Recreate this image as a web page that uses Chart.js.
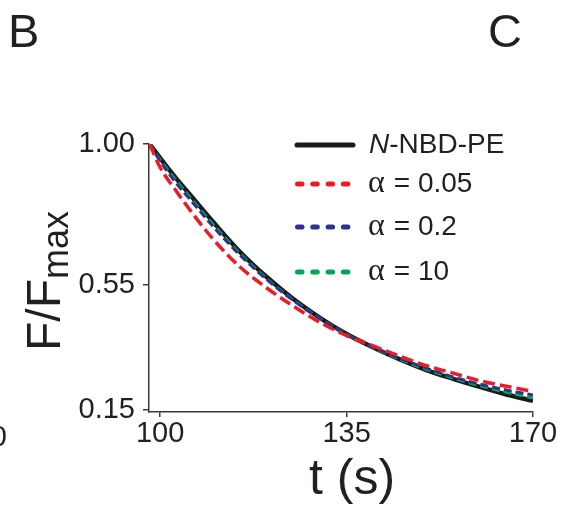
<!DOCTYPE html>
<html>
<head>
<meta charset="utf-8">
<script src="https://cdn.jsdelivr.net/npm/chart.js@4.4.0/dist/chart.umd.min.js"></script>
<style>
  html, body { margin: 0; padding: 0; background: #fff; }
  #wrap { width: 566px; height: 510px; position: relative; }
</style>
</head>
<body>
<div id="wrap"><canvas id="decayChart"></canvas></div>
<script>
  // time points (s)
  let timePoints = [98, 100, 103, 106, 110, 115, 120, 125, 130, 135, 140, 145, 150, 155, 160, 165, 170];

  // F/Fmax per series
  let nbdPe     = [1.00, 0.955, 0.890, 0.830, 0.750, 0.655, 0.575, 0.505, 0.445, 0.393, 0.350, 0.312, 0.278, 0.250, 0.224, 0.200, 0.180];
  let alpha005  = [1.00, 0.925, 0.850, 0.780, 0.695, 0.607, 0.540, 0.482, 0.430, 0.388, 0.355, 0.322, 0.292, 0.268, 0.244, 0.226, 0.210];
  let alpha02   = [1.00, 0.945, 0.875, 0.815, 0.735, 0.645, 0.567, 0.500, 0.442, 0.392, 0.350, 0.315, 0.284, 0.256, 0.233, 0.214, 0.198];
  let alpha10   = [1.00, 0.950, 0.883, 0.822, 0.742, 0.650, 0.570, 0.502, 0.443, 0.392, 0.349, 0.312, 0.280, 0.252, 0.228, 0.207, 0.189];

  let seriesLabels = ["N-NBD-PE", "α = 0.05", "α = 0.2", "α = 10"];

  // tick labels
  let xTicks = [100, 135, 170];
  let yTicks = [0.15, 0.55, 1.00];

  // colours
  let inkColor = "#231f20";
  let axisColor = "#3a3a3a";
  let seriesColors = ["#1a1a1a", "#ed1c24", "#2e3192", "#00a651"];
  let sansFont = '"Liberation Sans", Arial, Helvetica, sans-serif';
  let serifFont = '"Liberation Serif", "Times New Roman", serif';

  function toPoints(values) {
    return values.map((v, i) => ({ x: timePoints[i], y: v }));
  }

  // legend, axis titles, panel letters
  const figureText = {
    id: "figureText",
    afterDraw(chart) {
      const ctx = chart.ctx;
      ctx.save();
      ctx.fillStyle = inkColor;
      ctx.textBaseline = "alphabetic";
      ctx.textAlign = "left";

      // panel letters
      ctx.font = "47px " + sansFont;
      ctx.fillText("B", 8, 47);
      ctx.fillText("C", 488, 47);

      // leftover of the neighbouring panel's tick label
      ctx.font = "29px " + sansFont;
      ctx.textAlign = "right";
      ctx.fillText("0", 7, 446);
      ctx.textAlign = "left";

      // x title
      ctx.font = "50px " + sansFont;
      ctx.textAlign = "center";
      ctx.fillText("t (s)", 352, 494);
      ctx.textAlign = "left";

      // y title with subscript
      ctx.save();
      ctx.translate(60, 351);
      ctx.rotate(-Math.PI / 2);
      ctx.font = "48px " + sansFont;
      ctx.fillText("F/F", 0, 0);
      let w = ctx.measureText("F/F").width;
      ctx.font = "36px " + sansFont;
      ctx.fillText("max", w, 8);
      ctx.restore();

      // legend
      const rows = [145, 184, 227, 272];
      const baselines = [153, 192, 235, 280];
      chart.data.datasets.forEach((ds, i) => {
        const y = rows[i];
        ctx.strokeStyle = ds.borderColor;
        ctx.lineCap = "round";
        if (i === 0) {
          ctx.lineWidth = 5;
          ctx.beginPath();
          ctx.moveTo(297, y);
          ctx.lineTo(353, y);
          ctx.stroke();
        } else {
          ctx.lineWidth = 5;
          for (let k = 0; k < 4; k++) {
            const x0 = 297.5 + k * 15.3;
            ctx.beginPath();
            ctx.moveTo(x0, y);
            ctx.lineTo(x0 + 4.5, y);
            ctx.stroke();
          }
        }
        const label = seriesLabels[i];
        let x = 369;
        const by = baselines[i];
        if (label.startsWith("N")) {
          ctx.font = "italic 28px " + sansFont;
          ctx.fillText("N", x, by);
          x += ctx.measureText("N").width;
          ctx.font = "28px " + sansFont;
          ctx.fillText(label.slice(1), x, by);
        } else {
          ctx.font = "32px " + serifFont;
          ctx.fillText("α", x - 1, by);
          ctx.font = "28px " + sansFont;
          ctx.fillText(label.slice(1), x + 17, by);
        }
      });
      ctx.restore();
    }
  };

  let ctx = document.getElementById("decayChart").getContext("2d");
  let chart = new Chart(ctx, {
    type: "line",
    data: {
      datasets: [
        {
          label: seriesLabels[0], data: toPoints(nbdPe),
          borderColor: seriesColors[0], borderWidth: 4.5, order: 3
        },
        {
          label: seriesLabels[1], data: toPoints(alpha005),
          borderColor: seriesColors[1], borderWidth: 3.5, borderDash: [12, 5], order: 0
        },
        {
          label: seriesLabels[2], data: toPoints(alpha02),
          borderColor: seriesColors[2], borderWidth: 3, borderDash: [8, 4], order: 1
        },
        {
          label: seriesLabels[3], data: toPoints(alpha10),
          borderColor: seriesColors[3], borderWidth: 3, borderDash: [8, 4], order: 2
        }
      ]
    },
    options: {
      responsive: true,
      maintainAspectRatio: false,
      animation: false,
      layout: { padding: { top: 144, right: 33, left: 0, bottom: 0 } },
      elements: {
        point: { radius: 0 },
        line: { tension: 0.4, cubicInterpolationMode: "monotone", fill: false }
      },
      plugins: {
        legend: { display: false },
        tooltip: { enabled: false }
      },
      scales: {
        x: {
          type: "linear",
          min: 97.9,
          max: 170,
          afterBuildTicks: (scale) => { scale.ticks = xTicks.map(v => ({ value: v })); },
          afterFit: (scale) => { scale.height = 98; },
          ticks: {
            autoSkip: false, maxRotation: 0, padding: 0,
            color: inkColor, font: { family: sansFont, size: 29 },
            callback: (v) => String(v)
          },
          grid: { display: true, drawOnChartArea: false, drawTicks: true, tickLength: 5, color: axisColor, lineWidth: 1.5 },
          border: { display: true, color: axisColor, width: 1.5 }
        },
        y: {
          type: "linear",
          min: 0.144,
          max: 1.0,
          afterBuildTicks: (scale) => { scale.ticks = yTicks.map(v => ({ value: v })); },
          afterFit: (scale) => { scale.width = 149; },
          ticks: {
            autoSkip: false, padding: 8,
            color: inkColor, font: { family: sansFont, size: 29 },
            callback: (v) => v.toFixed(2)
          },
          grid: { display: true, drawOnChartArea: false, drawTicks: true, tickLength: 6, color: axisColor, lineWidth: 1.5 },
          border: { display: true, color: axisColor, width: 1.5 }
        }
      }
    },
    plugins: [figureText]
  });
</script>
</body>
</html>
